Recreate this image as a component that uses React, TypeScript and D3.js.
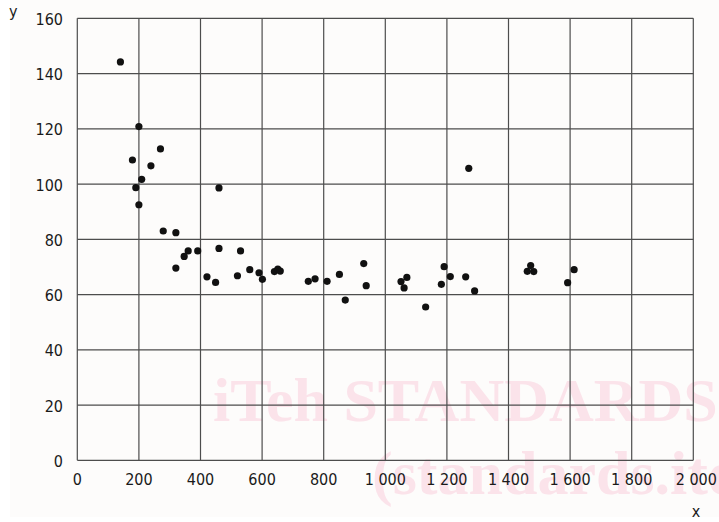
import React from 'react'
import * as d3 from 'd3'

const xValues = [
  140, 200, 179, 270, 239, 209, 190, 200, 460, 279, 320, 460, 530, 391, 360, 347,
  320, 421, 449, 520, 560, 590, 601, 640, 651, 659, 750, 772, 811, 851, 870,
  1271, 930, 938, 1051, 1070, 1061, 1131, 1191, 1182, 1211, 1261, 1290,
  1472, 1461, 1482, 1613, 1592
]
const yValues = [
  144.2, 120.8, 108.7, 112.7, 106.6, 101.7, 98.7, 92.5, 98.6, 83, 82.4, 76.7, 75.8, 75.8, 75.8, 73.8,
  69.6, 66.4, 64.4, 66.8, 69, 67.9, 65.5, 68.3, 69.2, 68.5, 64.8, 65.7, 64.8, 67.3, 58,
  105.7, 71.2, 63.2, 64.7, 66.2, 62.4, 55.5, 70.1, 63.7, 66.5, 66.4, 61.3,
  70.5, 68.4, 68.3, 69, 64.3
]
const xTicks = [0, 200, 400, 600, 800, 1000, 1200, 1400, 1600, 1800, 2000]
const yTicks = [0, 20, 40, 60, 80, 100, 120, 140, 160]

const W = 719
const H = 522
const FONT = '"DejaVu Sans Condensed", "DejaVu Sans", sans-serif'

export default function App() {
  const x = d3.scaleLinear().domain([0, 2000]).range([77.3, 693.3])
  const y = d3.scaleLinear().domain([0, 160]).range([460.3, 18.3])
  const fmt = d3.formatLocale({ decimal: '.', thousands: ' ', grouping: [3], currency: ['', ''] }).format(',')

  const points = xValues.map((v, i) => ({ x: v, y: yValues[i] }))

  return (
    <svg
      width={W}
      height={H}
      style={{ position: 'absolute', left: 0, top: 0, display: 'block' }}
    >
      <rect x={0} y={0} width={W} height={H} fill="#ffffff" />
      <rect x={10} y={0} width={W - 10} height={517} fill="#fdfcfb" />

      {/* watermark */}
      <g fontFamily='"Liberation Serif", serif' fontWeight="bold" fill="#fbe3ea">
        <text x={213} y={421} fontSize={62}>iTeh STANDARDS</text>
        <text x={372} y={494} fontSize={62}>(standards.iteh.ai)</text>
      </g>

      {/* grid */}
      <g stroke="#4d4d4d" strokeWidth={1.2}>
        {xTicks.map(t => (
          <line key={'gx' + t} x1={x(t)} x2={x(t)} y1={y(0)} y2={y(160)} />
        ))}
        {yTicks.map(t => (
          <line key={'gy' + t} x1={x(0)} x2={x(2000)} y1={y(t)} y2={y(t)} />
        ))}
      </g>

      {/* points */}
      <g fill="#111111">
        {points.map((p, i) => (
          <circle key={i} cx={x(p.x)} cy={y(p.y)} r={3.6} />
        ))}
      </g>

      {/* tick labels */}
      <g fontFamily={FONT} fontSize={16} fill="#1a1a1a">
        {xTicks.map(t => (
          <text key={'lx' + t} x={t === 2000 ? x(t) + 3 : x(t)} y={485} textAnchor="middle">{fmt(t)}</text>
        ))}
        {yTicks.map(t => (
          <text key={'ly' + t} x={63} y={y(t) + 6.5} textAnchor="end">{fmt(t)}</text>
        ))}
        <text x={9} y={17}>y</text>
        <text x={696} y={517} textAnchor="middle">x</text>
      </g>
    </svg>
  )
}
